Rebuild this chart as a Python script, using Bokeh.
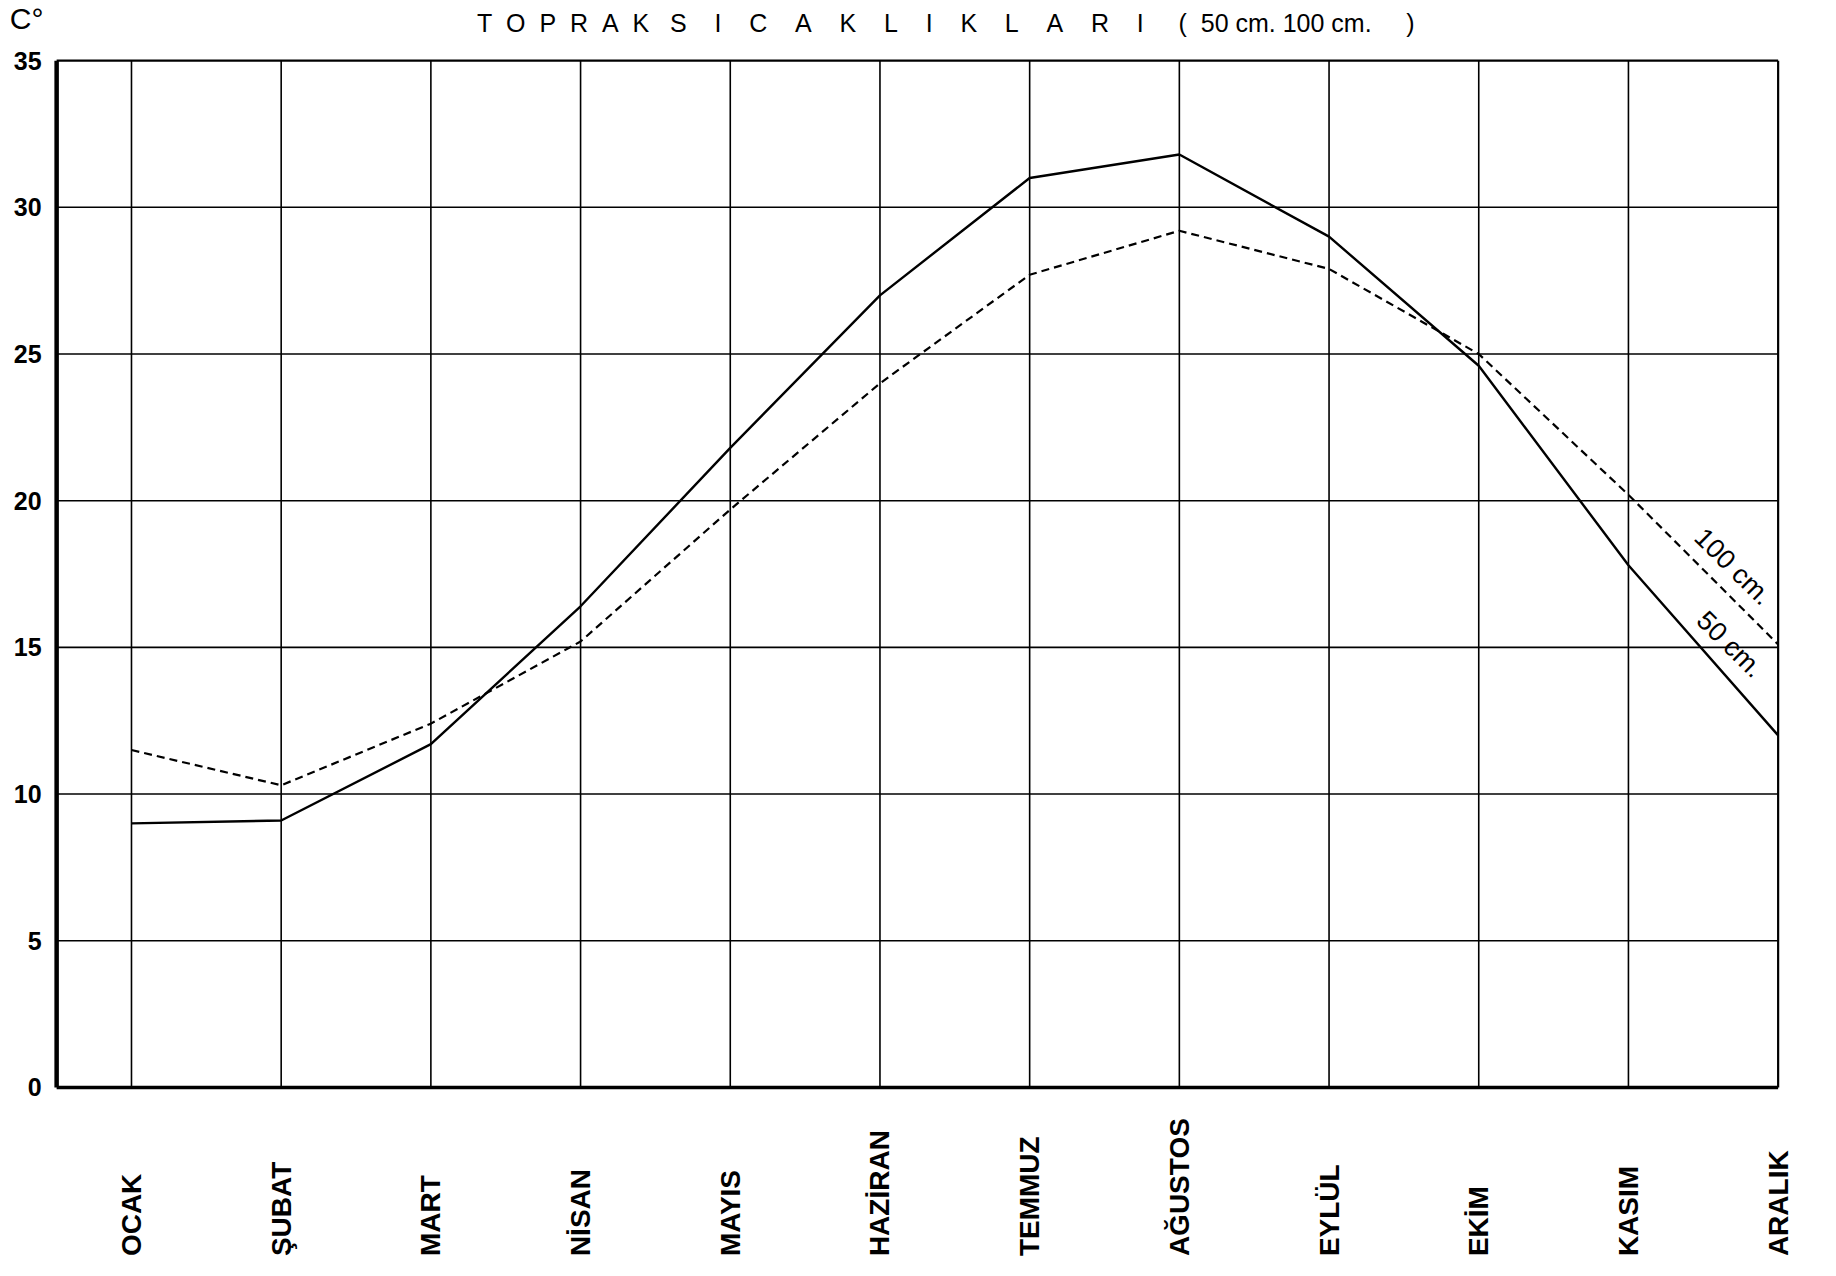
from math import pi
from bokeh.plotting import figure
from bokeh.core.properties import value
from bokeh.embed import file_html
from bokeh.resources import INLINE

# ---- data ----
months = ["OCAK", "ŞUBAT", "MART", "NİSAN", "MAYIS", "HAZİRAN",
          "TEMMUZ", "AĞUSTOS", "EYLÜL", "EKİM", "KASIM", "ARALIK"]
soil_50cm = [9.0, 9.1, 11.7, 16.4, 21.8, 27.0, 31.0, 31.8, 29.0, 24.6, 17.8, 12.0]
soil_100cm = [11.5, 10.3, 12.4, 15.2, 19.7, 24.0, 27.7, 29.2, 27.9, 25.0, 20.2, 15.1]
y_ticks = [0, 5, 10, 15, 20, 25, 30, 35]
y_tick_labels = ["0", "5", "10", "15", "20", "25", "30", "35"]
NB = "\u00a0"
title_text = ((NB * 2).join("TOPRAK") + NB * 3 + (NB * 4).join("SICAKLIKLARI") + NB * 5
              + "(" + NB * 2 + "50" + NB + "cm." + NB + "100" + NB + "cm." + NB * 5 + ")")
unit_text = "C°"
label_50 = "50 cm."
label_100 = "100 cm."

FONT = value("Liberation Sans")
n = len(months)
xs = list(range(n))
x_left = -0.5
x_right = n - 1
y_top = y_ticks[-1]

p = figure(width=1820, height=1260, x_range=(-0.875, 11.283), y_range=(-5.9, 37.05),
           output_backend="svg", toolbar_location=None, min_border=0,
           x_axis_location=None, y_axis_location=None)
p.grid.visible = False
p.outline_line_color = None
p.background_fill_color = "white"
p.border_fill_color = "white"

# horizontal grid lines
hy = y_ticks[1:-1]
p.segment(x0=[x_left] * len(hy), x1=[x_right] * len(hy), y0=hy, y1=hy,
          line_color="black", line_width=1.6)
# top border
p.segment(x0=[x_left], x1=[x_right], y0=[y_top], y1=[y_top], line_color="black", line_width=2.4)
# bottom axis
p.segment(x0=[x_left], x1=[x_right], y0=[0], y1=[0], line_color="black", line_width=3.5)
# vertical month lines
vx = xs[:-1]
p.segment(x0=vx, x1=vx, y0=[0] * len(vx), y1=[y_top] * len(vx), line_color="black", line_width=1.6)
# right border
p.segment(x0=[x_right], x1=[x_right], y0=[0], y1=[y_top], line_color="black", line_width=2.2)
# left axis
p.segment(x0=[x_left], x1=[x_left], y0=[0], y1=[y_top], line_color="black", line_width=4.5)

# data lines
p.line(xs, soil_100cm, line_color="black", line_width=2.2, line_dash="8 5")
p.line(xs, soil_50cm, line_color="black", line_width=2.4)

# y tick labels
p.text(x=[-0.6] * len(y_ticks), y=y_ticks, text=y_tick_labels, text_align="right",
       text_baseline="middle", text_font=FONT, text_font_size="25px",
       text_font_style="bold", text_color="black")

# month labels (vertical, bottom aligned)
p.text(x=xs, y=[-5.75] * n, text=months, angle=pi / 2, text_align="left",
       text_baseline="middle", text_font=FONT, text_font_size="28px",
       text_font_style="bold", text_color="black")

# title and unit
p.text(x=[5.44], y=[36.3], text=[title_text], text_align="center", text_baseline="middle",
       text_font=FONT, text_font_size="25px", text_color="black")
p.text(x=[-0.70], y=[36.45], text=[unit_text], text_align="center", text_baseline="middle",
       text_font=FONT, text_font_size="30px", text_color="black")

# line labels
ang = -0.78
p.text(x=[10.7], y=[17.75], text=[label_100], angle=ang, text_align="center",
       text_baseline="middle", text_font=FONT, text_font_size="27px", text_color="black")
p.text(x=[10.68], y=[15.1], text=[label_50], angle=ang, text_align="center",
       text_baseline="middle", text_font=FONT, text_font_size="27px", text_color="black")

open("out.html", "w").write(file_html(p, INLINE))
